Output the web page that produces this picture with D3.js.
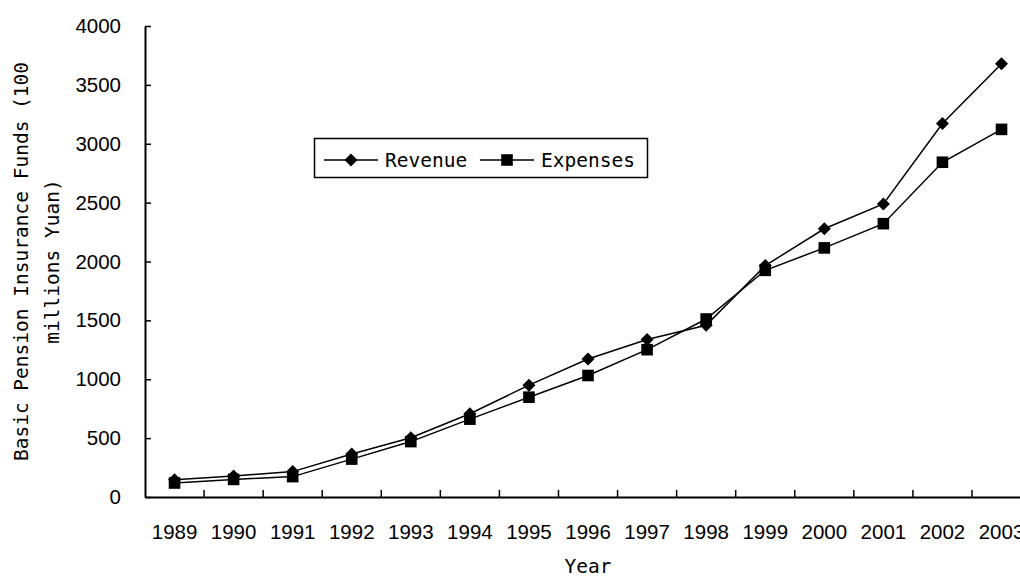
<!DOCTYPE html>
<html>
<head>
<meta charset="utf-8">
<script src="https://cdn.jsdelivr.net/npm/d3@7/dist/d3.min.js"></script>
<style>
  body { margin: 0; background: #fff; }
  svg { display: block; }
</style>
</head>
<body>
<script>
// data (100 millions Yuan)
const years = ['1989', '1990', '1991', '1992', '1993', '1994', '1995', '1996',
  '1997', '1998', '1999', '2000', '2001', '2002', '2003'];
const revenue = [146.7, 178.8, 215.7, 365.8, 503.5, 707.4, 950.1, 1171.8,
  1337.9, 1459.0, 1965.1, 2278.1, 2489.0, 3171.5, 3680.0];
const expenses = [118.8, 149.3, 173.1, 321.9, 470.6, 661.1, 847.6, 1031.9,
  1251.3, 1511.6, 1924.9, 2115.5, 2321.3, 2842.9, 3122.1];
const yTicks = [0, 500, 1000, 1500, 2000, 2500, 3000, 3500, 4000];
const seriesNames = ['Revenue', 'Expenses'];
const yTitle = ['Basic Pension Insurance Funds (100', 'millions Yuan)'];
const xTitle = 'Year';

const width = 1020;
const height = 578;
const plotLeft = 145;
const plotBottom = 497;
const plotTop = 26;
const step = 59.07;

const titleFont = '"DejaVu Sans Mono", monospace';
const tickFont = '"Liberation Sans", Arial, sans-serif';

const svg = d3.select('body')
  .append('svg')
  .attr('width', width)
  .attr('height', height);

svg.append('rect')
  .attr('width', width)
  .attr('height', height)
  .attr('fill', '#fff');

const x = d3.scaleBand()
  .domain(years)
  .range([plotLeft, plotLeft + step * years.length]);
const y = d3.scaleLinear()
  .domain([0, 4000])
  .range([plotBottom, plotTop]);
const cx = d => x(d) + x.bandwidth() / 2;

//
// y axis, ticks pointing inward
//
const yAxis = svg.append('g')
  .attr('transform', `translate(${plotLeft},0)`)
  .call(d3.axisLeft(y)
    .tickValues(yTicks)
    .tickFormat(d3.format('d'))
    .tickSizeInner(-6)
    .tickSizeOuter(0)
    .tickPadding(24));
yAxis.select('.domain').attr('stroke', '#000').attr('stroke-width', 2);
yAxis.selectAll('.tick line').attr('stroke', '#000').attr('stroke-width', 1.5);
yAxis.selectAll('.tick text')
  .attr('fill', '#000')
  .style('font-family', tickFont)
  .style('font-size', '20.5px');

//
// x axis: labels at band centres, ticks at band edges
//
const xAxis = svg.append('g')
  .attr('transform', `translate(0,${plotBottom})`)
  .call(d3.axisBottom(x).tickSize(0).tickPadding(27));
xAxis.select('.domain').attr('stroke', '#000').attr('stroke-width', 2);
xAxis.selectAll('.tick text')
  .attr('fill', '#000')
  .style('font-family', tickFont)
  .style('font-size', '20.5px');

svg.append('g')
  .selectAll('line')
  .data(years.slice(1))
  .join('line')
  .attr('x1', d => x(d))
  .attr('x2', d => x(d))
  .attr('y1', plotBottom)
  .attr('y2', plotBottom - 7)
  .attr('stroke', '#000')
  .attr('stroke-width', 1.5);

//
// axis titles
//
const yt = svg.append('g')
  .attr('transform', `translate(28,${(plotTop + plotBottom) / 2}) rotate(-90)`);
yt.selectAll('text')
  .data(yTitle)
  .join('text')
  .attr('y', (d, i) => i * 31)
  .attr('text-anchor', 'middle')
  .style('font-family', titleFont)
  .style('font-size', '19.5px')
  .text(d => d);

svg.append('text')
  .attr('x', (x.range()[0] + x.range()[1]) / 2)
  .attr('y', 573)
  .attr('text-anchor', 'middle')
  .style('font-family', titleFont)
  .style('font-size', '19.5px')
  .text(xTitle);

//
// series
//
const line = d3.line()
  .x((d, i) => cx(years[i]))
  .y(d => y(d));

function diamond(sel, r) {
  sel.attr('d', `M0,${-r}L${r},0L0,${r}L${-r},0Z`).attr('fill', '#000');
}
function square(sel, s) {
  sel.attr('d', `M${-s},${-s}H${s}V${s}H${-s}Z`).attr('fill', '#000');
}

[revenue, expenses].forEach((vals, k) => {
  svg.append('path')
    .datum(vals)
    .attr('d', line)
    .attr('fill', 'none')
    .attr('stroke', '#000')
    .attr('stroke-width', 1.5);

  svg.append('g')
    .selectAll('path')
    .data(vals)
    .join('path')
    .attr('transform', (d, i) => `translate(${cx(years[i])},${y(d)})`)
    .call(k === 0 ? s => diamond(s, 6.5) : s => square(s, 5.8));
});

//
// legend
//
const legend = svg.append('g');
legend.append('rect')
  .attr('x', 314.5)
  .attr('y', 138.5)
  .attr('width', 333)
  .attr('height', 39)
  .attr('fill', '#fff')
  .attr('stroke', '#000')
  .attr('stroke-width', 1.5);

const legendX = [324, 480];
seriesNames.forEach((name, k) => {
  const g = legend.append('g').attr('transform', `translate(${legendX[k]},160)`);
  g.append('line')
    .attr('x1', 0)
    .attr('x2', 54)
    .attr('stroke', '#000')
    .attr('stroke-width', 1.5);
  g.append('path')
    .attr('transform', 'translate(27,0)')
    .call(k === 0 ? s => diamond(s, 6.5) : s => square(s, 5.8));
  g.append('text')
    .attr('x', 61)
    .attr('y', 7)
    .style('font-family', titleFont)
    .style('font-size', '19.5px')
    .text(name);
});
</script>
</body>
</html>
